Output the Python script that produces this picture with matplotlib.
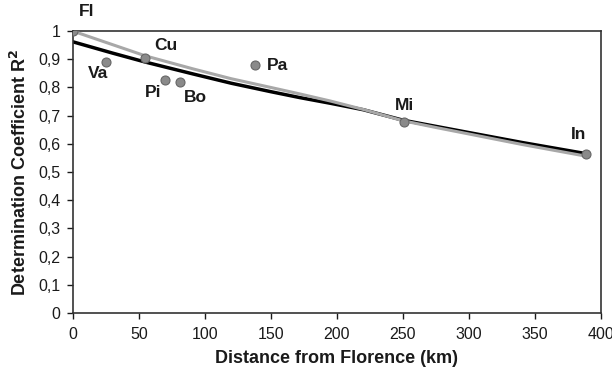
import matplotlib
matplotlib.use("Agg")
import matplotlib.pyplot as plt
from matplotlib.ticker import FuncFormatter

# Sites: distance from Florence (km) and R2
sites = ["Fl", "Va", "Cu", "Pi", "Bo", "Pa", "Mi", "In"]
dist = [0, 25, 55, 70, 81, 138, 251, 389]
r2 = [1.0, 0.89, 0.905, 0.826, 0.82, 0.879, 0.677, 0.563]

# Trend lines
black_x = [0, 30, 55, 91, 120, 150, 172, 195, 220, 250, 275, 300, 340, 389]
black_y = [0.962, 0.922, 0.89, 0.848, 0.815, 0.785, 0.764, 0.744, 0.721, 0.684, 0.662, 0.640, 0.605, 0.565]
gray_x = [0, 30, 55, 91, 120, 150, 172, 195, 220, 250, 275, 300, 340, 389]
gray_y = [1.0, 0.952, 0.912, 0.866, 0.831, 0.80, 0.777, 0.752, 0.722, 0.682, 0.658, 0.635, 0.598, 0.556]

# label offsets in points
offsets = {"Fl": (10, 14), "Va": (-6, -8), "Cu": (15, 9), "Pi": (-9, -9),
           "Bo": (11, -11), "Pa": (16, 0), "Mi": (0, 12), "In": (-6, 14)}

plt.rcParams['font.family'] = ['Liberation Sans', 'DejaVu Sans']

fig = plt.figure(figsize=(6.12, 3.70), dpi=100)
ax = fig.add_axes([0.119, 0.154, 0.863, 0.762])

ax.plot(black_x, black_y, color='black', lw=2.5, zorder=2, solid_capstyle='round', solid_joinstyle='round')
ax.plot(gray_x, gray_y, color='#a8a8a8', lw=2.2, zorder=3, solid_capstyle='round', solid_joinstyle='round')
ax.scatter(dist, r2, s=42, color='#8a8a8a', edgecolors='#666666', linewidths=0.8, zorder=4)

for s, x, y in zip(sites, dist, r2):
    dx, dy = offsets[s]
    ax.annotate(s, (x, y), xytext=(dx, dy), textcoords='offset points',
                ha='center', va='center', fontsize=12.5, fontweight='bold', color='#1a1a1a')

ax.set_xlim(0, 400)
ax.set_ylim(0, 1)
ax.set_xticks(range(0, 401, 50))
ax.set_yticks([i / 10 for i in range(11)])
ax.yaxis.set_major_formatter(FuncFormatter(lambda v, p: ('%g' % round(v, 1)).replace('.', ',')))
ax.tick_params(direction='out', length=4, width=1, labelsize=11.5, colors='#1a1a1a')
ax.tick_params(axis='x', pad=6)
ax.tick_params(axis='y', pad=5)
for sp in ax.spines.values():
    sp.set_linewidth(1.2)
    sp.set_color('#333333')

ax.set_xlabel('Distance from Florence (km)', fontsize=13, fontweight='bold', labelpad=6, color='#1a1a1a')
ax.set_ylabel('Determination Coefficient R$^\\mathbf{2}$', fontsize=13, fontweight='bold', labelpad=6, color='#1a1a1a')

fig.savefig('out.png', dpi=100)
